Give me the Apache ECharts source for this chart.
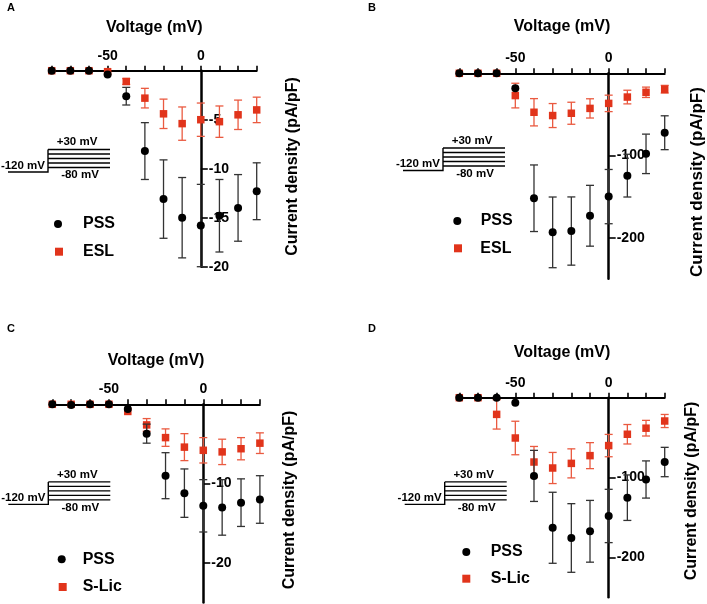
<!DOCTYPE html>
<html><head><meta charset="utf-8">
<script src="https://cdn.jsdelivr.net/npm/echarts@6/dist/echarts.min.js"></script>
<style>html,body{margin:0;padding:0;background:#fff}#c{width:707px;height:604px}</style>
</head><body><div id="c"></div>
<script>
// ---- data ----
const voltage = [-80, -70, -60, -50, -40, -30, -20, -10, 0, 10, 20, 30];
const xLabelValues = [-50, 0];
const xMin = -80, xMax = 30;

// Panel A
const aPssMean = [0, 0, 0, -0.4, -2.6, -8.2, -13.1, -15.0, -15.8, -14.8, -14.0, -12.3];
const aPssSem  = [0, 0, 0, 0, 0.9, 2.9, 4.0, 4.1, 4.2, 3.7, 3.4, 2.9];
const aEslMean = [0, 0, 0, -0.1, -1.1, -2.8, -4.4, -5.4, -5.0, -5.2, -4.5, -4.0];
const aEslSem  = [0, 0, 0, 0, 0.3, 1.0, 1.5, 1.7, 1.7, 1.6, 1.5, 1.3];
const aYTicks = [-5, -10, -15, -20];

// Panel B
const bPssMean = [0, 0, 0, -18.2, -152, -193.5, -191.9, -173.3, -150, -124.5, -98, -72.3];
const bPssSem  = [0, 0, 0, 0, 40.5, 43, 41.5, 37, 33, 26, 24, 20.6];
const bEslMean = [0, 0, 0, -27.1, -47.4, -51.4, -48.6, -42.7, -36.6, -28.9, -23.1, -19.4];
const bEslSem  = [0, 0, 0, 15, 16.6, 14.6, 13.4, 11.7, 10, 8.3, 6.3, 4.7];
const bYTicks = [-100, -200];

// Panel C
const cPssMean = [0, -0.1, 0, 0, -0.6, -3.7, -9.0, -11.2, -12.8, -13.0, -12.4, -12.0];
const cPssSem  = [0, 0, 0, 0, 0, 1.2, 2.9, 3.05, 3.3, 3.5, 3.0, 3.0];
const cSlicMean = [0, 0, 0, 0, -0.9, -2.6, -4.2, -5.4, -5.8, -6.0, -5.6, -4.9];
const cSlicSem  = [0, 0, 0, 0, 0, 0.8, 1.1, 1.7, 1.6, 1.6, 1.4, 1.3];
const cYTicks = [-10, -20];

// Panel D
const dPssMean = [0, 0, 0, -6.3, -98, -163, -175.8, -167.4, -148.2, -125.3, -102.5, -80.6];
const dPssSem  = [0, 0, 0, 0, 32, 44.5, 43, 38.7, 33.4, 28.5, 23.3, 18.4];
const dSlicMean = [0, 0, -20.9, -50.5, -80.6, -88.1, -82.3, -72.6, -60.0, -45.8, -38.2, -29.2];
const dSlicSem  = [0, 0, 18.4, 21, 19.5, 19.5, 18.2, 16.3, 14, 12.2, 9.8, 8.2];
const dYTicks = [-100, -200];

// ---- styling ----
const FF = 'Liberation Sans, Arial, Helvetica, sans-serif';
const RED = '#e1341b';
const RED_ERR = '#ea5a40';
const BLK = '#000000';
const BLK_ERR = '#333333';

const panels = [
  { grid: {left: 51.7, top: 70.7, width: 205, height: 196}, yMin: -20, yTicks: aYTicks, nameGap: 35,
    groups: [{name: 'ESL', mean: aEslMean, sem: aEslSem}, {name: 'PSS', mean: aPssMean, sem: aPssSem}],
    letter: ['A', 11, 8], ytitle: [293, 166.5, 16], inset: [0, 0],
    legend: [[54, 216, 16], [55, 243.7, 15]] },
  { grid: {left: 459.3, top: 73.3, width: 205.4, height: 205.5}, yMin: -250, yTicks: bYTicks, nameGap: 39,
    groups: [{name: 'ESL', mean: bEslMean, sem: bEslSem}, {name: 'PSS', mean: bPssMean, sem: bPssSem}],
    letter: ['B', 372, 7.5], ytitle: [697, 182, 17], inset: [395, -1.5],
    legend: [[453.3, 213, 14.4], [454, 240.3, 13.3]] },
  { grid: {left: 52.3, top: 404.3, width: 207.6, height: 198.3}, yMin: -25, yTicks: cYTicks, nameGap: 36,
    groups: [{name: 'S-Lic', mean: cSlicMean, sem: cSlicSem}, {name: 'PSS', mean: cPssMean, sem: cPssSem}],
    letter: ['C', 11, 329], ytitle: [290, 500, 16], inset: [0.3, 332.4],
    legend: [[57.7, 551.3, 12], [58.7, 579, 11]] },
  { grid: {left: 459.3, top: 397.7, width: 205.4, height: 199.5}, yMin: -250, yTicks: dYTicks, nameGap: 37,
    groups: [{name: 'S-Lic', mean: dSlicMean, sem: dSlicSem}, {name: 'PSS', mean: dPssMean, sem: dPssSem}],
    letter: ['D', 372, 328.5], ytitle: [692, 491, 16], inset: [396.7, 332.4],
    legend: [[462.3, 544, 15.4], [462.3, 570.7, 15.4]] }
];

function errRender(color) {
  return function (params, api) {
    const x = api.value(0), lo = api.value(1), hi = api.value(2);
    const p1 = api.coord([x, hi]);
    const p2 = api.coord([x, lo]);
    const w = 4;
    const st = {stroke: color, lineWidth: 1.3};
    return {type: 'group', children: [
      {type: 'line', shape: {x1: p1[0], y1: p1[1], x2: p2[0], y2: p2[1]}, style: st},
      {type: 'line', shape: {x1: p1[0] - w, y1: p1[1], x2: p1[0] + w, y2: p1[1]}, style: st},
      {type: 'line', shape: {x1: p2[0] - w, y1: p2[1], x2: p2[0] + w, y2: p2[1]}, style: st}
    ]};
  };
}

const grids = [], xAxes = [], yAxes = [], series = [], legends = [], graphics = [];

panels.forEach((p, i) => {
  grids.push(Object.assign({containLabel: false, outerBoundsMode: 'none'}, p.grid));
  xAxes.push({
    type: 'value', gridIndex: i, min: xMin, max: xMax, interval: 10, position: 'top',
    name: 'Voltage (mV)', nameLocation: 'middle', nameGap: p.nameGap,
    nameTextStyle: {fontFamily: FF, fontSize: 16, fontWeight: 'bold', color: '#000'},
    axisLine: {onZero: false, lineStyle: {color: '#000', width: 2}},
    axisTick: {length: 5, lineStyle: {color: '#000', width: 1.6}},
    axisLabel: {customValues: xLabelValues, fontFamily: FF, fontSize: 14, fontWeight: 'bold', color: '#000', margin: 8},
    splitLine: {show: false}
  });
  // y axis sits at voltage = 0: shift from the grid's right edge by the 0..xMax span
  const yOffset = -p.grid.width * (xMax - 0) / (xMax - xMin);
  yAxes.push({
    type: 'value', gridIndex: i, min: p.yMin, max: 0, position: 'right', offset: yOffset,
    axisLine: {show: true, onZero: false, lineStyle: {color: '#000', width: 2.5}},
    axisTick: {show: true, customValues: p.yTicks, length: 7, lineStyle: {color: '#000', width: 1.6}},
    axisLabel: {customValues: p.yTicks, fontFamily: FF, fontSize: 14, fontWeight: 'bold', color: '#000', margin: 8},
    splitLine: {show: false}
  });
  p.groups.forEach((g) => {
    const isRed = g.name !== 'PSS';
    const errData = [];
    voltage.forEach((v, k) => { if (g.sem[k] > 0) errData.push([v, g.mean[k] - g.sem[k], g.mean[k] + g.sem[k]]); });
    series.push({
      type: 'custom', name: g.name + '-err', xAxisIndex: i, yAxisIndex: i,
      renderItem: errRender(isRed ? RED_ERR : BLK_ERR), data: errData,
      encode: {x: 0, y: [1, 2]}, z: isRed ? 2 : 4, silent: true
    });
    series.push({
      type: 'scatter', name: g.name, xAxisIndex: i, yAxisIndex: i,
      symbol: isRed ? 'rect' : 'circle', symbolSize: isRed ? 7.5 : 8,
      itemStyle: {color: isRed ? RED : BLK, opacity: 1},
      data: voltage.map((v, k) => [v, g.mean[k]]), z: isRed ? 3 : 5, silent: true
    });
  });
  const names = [p.groups[1].name, p.groups[0].name];
  names.forEach((nm, k) => {
    const L = p.legend[k];
    legends.push({
      data: [{name: nm, icon: nm === 'PSS' ? 'circle' : 'rect'}],
      left: L[0], top: L[1], padding: 0, itemWidth: 8, itemHeight: 8, selectedMode: false,
      textStyle: {fontFamily: FF, fontSize: 16, fontWeight: 'bold', color: '#000', padding: [0, 0, 0, L[2]]}
    });
  });
  graphics.push({type: 'text', x: p.letter[1], y: p.letter[2],
    style: {text: p.letter[0], font: 'bold 11px ' + FF, fill: '#000', textAlign: 'center', textVerticalAlign: 'middle'}});
  graphics.push({type: 'text', x: p.ytitle[0], y: p.ytitle[1], rotation: Math.PI / 2,
    style: {text: 'Current density (pA/pF)', font: 'bold ' + p.ytitle[2] + 'px ' + FF, fill: '#000', textAlign: 'center', textVerticalAlign: 'middle'}});
  const dx = p.inset[0], dy = p.inset[1];
  const ist = {stroke: '#000', lineWidth: 1.4, fill: null};
  graphics.push({type: 'polyline', shape: {points: [[8 + dx, 172 + dy], [48 + dx, 172 + dy], [48 + dx, 149.5 + dy]]}, style: ist});
  [149.5, 154, 158.5, 163, 167.5].forEach((yy) => {
    graphics.push({type: 'line', shape: {x1: 48 + dx, y1: yy + dy, x2: 110 + dx, y2: yy + dy}, style: ist});
  });
  graphics.push({type: 'text', x: 77 + dx, y: 142.3 + dy, style: {text: '+30 mV', font: 'bold 11.5px ' + FF, fill: '#000', textAlign: 'center', textVerticalAlign: 'middle'}});
  graphics.push({type: 'text', x: 45 + dx, y: 165.7 + dy, style: {text: '-120 mV', font: 'bold 11.5px ' + FF, fill: '#000', textAlign: 'right', textVerticalAlign: 'middle'}});
  graphics.push({type: 'text', x: 80 + dx, y: 175.3 + dy, style: {text: '-80 mV', font: 'bold 11.5px ' + FF, fill: '#000', textAlign: 'center', textVerticalAlign: 'middle'}});
});

const chart = echarts.init(document.getElementById('c'), null, {renderer: 'canvas'});
chart.setOption({
  animation: false,
  backgroundColor: '#fff',
  grid: grids, xAxis: xAxes, yAxis: yAxes, series: series, legend: legends,
  graphic: {elements: graphics}
});
</script></body></html>
